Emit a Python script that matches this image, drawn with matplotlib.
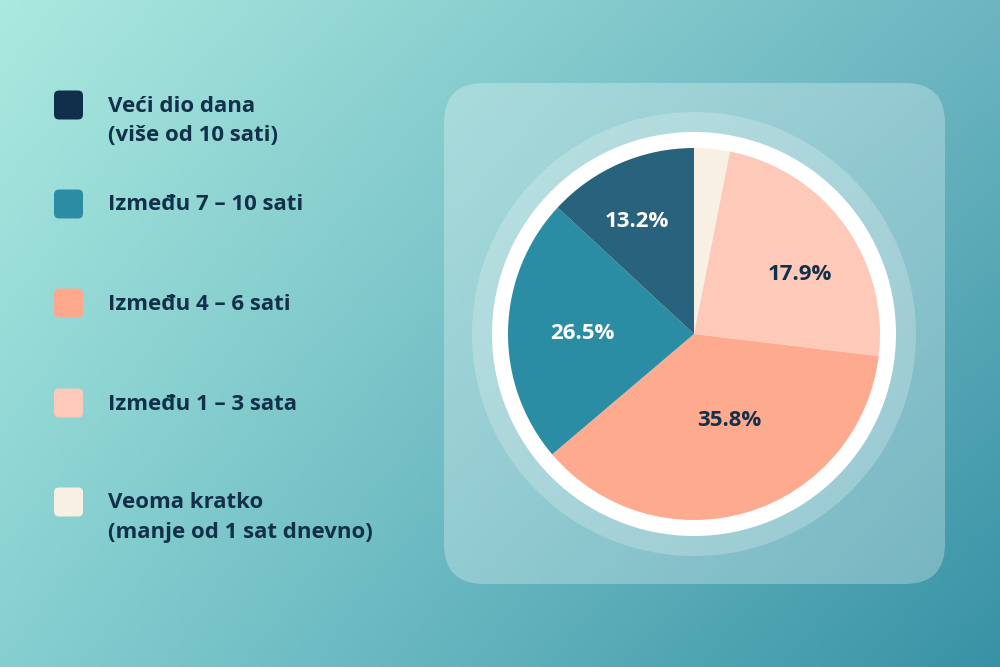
import numpy as np
import matplotlib.pyplot as plt
from matplotlib.patches import FancyBboxPatch, Circle

W, H = 1000, 667

# legend entries (top to bottom)
categories = ["Veći dio dana\n(više od 10 sati)", "Između 7 – 10 sati", "Između 4 – 6 sati",
              "Između 1 – 3 sata", "Veoma kratko\n(manje od 1 sat dnevno)"]
legend_colors = ["#0f2f4a", "#2c8ca3", "#fda88c", "#fdc9ba", "#f8f1e3"]

# pie slices, clockwise from 12 o'clock, shares as drawn in the picture
slice_shares = [3.1, 23.8, 36.9, 23.1, 13.1]
slice_labels = ["", "17.9%", "35.8%", "26.5%", "13.2%"]
slice_colors = ["#f8f1e3", "#fdcab9", "#fdaa8e", "#2b8da4", "#28627c"]
label_colors = ["#12304a", "#12304a", "#12304a", "white", "white"]

text_color = "#12304a"
font = ["Open Sans", "DejaVu Sans"]

fig = plt.figure(figsize=(10, 6.67), dpi=100)
ax = fig.add_axes([0, 0, 1, 1])

# background gradient (bilinear between corner colours)
def hex2rgb(h):
    h = h.lstrip("#")
    return np.array([int(h[i:i + 2], 16) / 255 for i in (0, 2, 4)])

tl, tr, bl, br = [hex2rgb(c) for c in ("#aae9df", "#6cb6c1", "#86cfd1", "#3892a5")]
u = np.linspace(0, 1, 200)[None, :, None]
v = np.linspace(0, 1, 140)[:, None, None]
grad = (1 - v) * ((1 - u) * tl + u * tr) + v * ((1 - u) * bl + u * br)
ax.imshow(grad, extent=(0, W, 0, H), origin="upper", aspect="auto", zorder=0)

# translucent panel
ax.add_patch(FancyBboxPatch((444, H - 584), 501, 501,
                            boxstyle="round,pad=0,rounding_size=40",
                            fc="white", alpha=0.28, ec="none", zorder=1))

cx, cy, r = 694, H - 334, 186
ax.add_patch(Circle((cx, cy), 222, fc="white", alpha=0.22, ec="none", zorder=2))
ax.add_patch(Circle((cx, cy), 202, fc="white", ec="none", zorder=3))

wedges, _ = ax.pie(slice_shares, colors=slice_colors, startangle=90, counterclock=False,
                   radius=r, center=(cx, cy), wedgeprops=dict(linewidth=0))
for w in wedges:
    w.set_zorder(4)

# percentage labels placed along each wedge's middle direction
label_dist = [0.0, 0.66, 0.49, 0.60, 0.69]
label_shift = [0, -6, 6, 0, 3]
for w, lab, d, s, c in zip(wedges, slice_labels, label_dist, label_shift, label_colors):
    if not lab:
        continue
    ang = np.deg2rad((w.theta1 + w.theta2) / 2 + s)
    ax.text(cx + d * r * np.cos(ang), cy + d * r * np.sin(ang) - 7.5, lab, ha="center",
            va="baseline", fontsize=16, fontweight="bold", color=c, family=font, zorder=5)

# legend
row_y = [105, 204, 303, 403, 502]
for name, col, y in zip(categories, legend_colors, row_y):
    ax.add_patch(FancyBboxPatch((54, H - y - 14.5), 29, 29,
                                boxstyle="round,pad=0,rounding_size=5",
                                fc=col, ec="none", zorder=2))
    for i, line in enumerate(name.split("\n")):
        ax.text(108, H - y - 6.5 - i * 29.5, line, ha="left", va="baseline", fontsize=16,
                fontweight="bold", color=text_color, family=font, zorder=2)

ax.set_xlim(0, W)
ax.set_ylim(0, H)
ax.set_aspect("auto")
ax.axis("off")

fig.savefig("out.png", dpi=100)
